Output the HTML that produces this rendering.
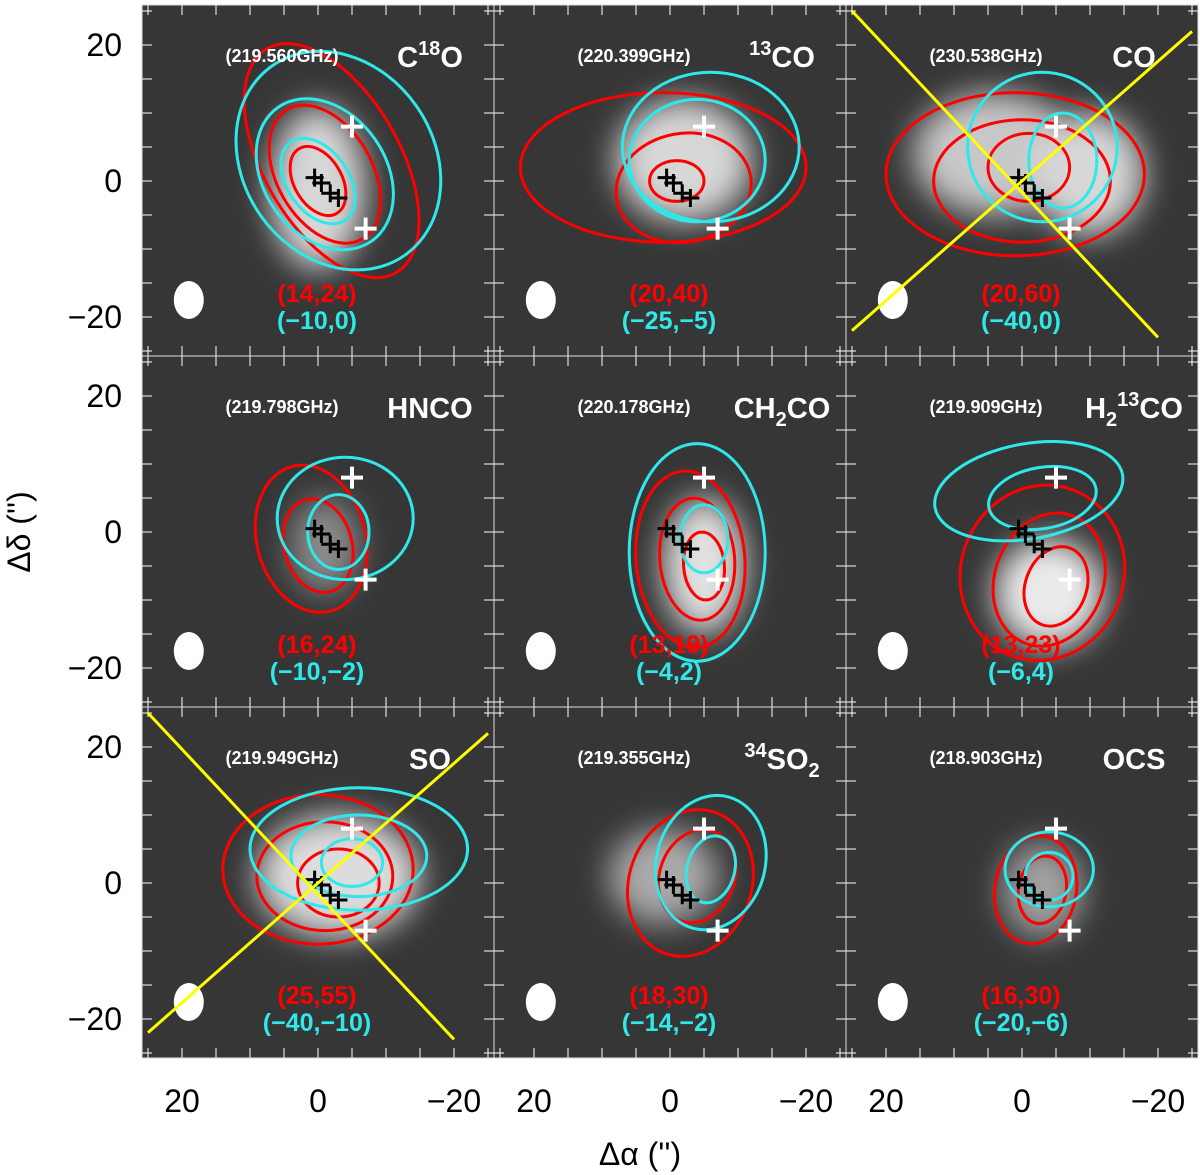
<!DOCTYPE html>
<html><head><meta charset="utf-8"><style>
body{margin:0;background:#fff;width:1200px;height:1175px;overflow:hidden;font-family:"Liberation Sans",sans-serif}
svg{position:absolute;left:0;top:0}
</style></head><body>
<svg id="fig" width="1200" height="1175" viewBox="0 0 1200 1175">
<defs>
<filter id="blur" x="-50%" y="-50%" width="200%" height="200%"><feGaussianBlur stdDeviation="16"/></filter>
</defs>
</svg>
<script>
// Panel metadata
const freqs=["(219.560GHz)","(220.399GHz)","(230.538GHz)","(219.798GHz)","(220.178GHz)","(219.909GHz)","(219.949GHz)","(219.355GHz)","(218.903GHz)"];
const mols=["C<tspan dy='-12' font-size='20'>18</tspan><tspan dy='12'>O</tspan>","<tspan dy='-12' font-size='20'>13</tspan><tspan dy='12'>CO</tspan>","CO","HNCO","CH<tspan dy='8' font-size='20'>2</tspan><tspan dy='-8'>CO</tspan>","H<tspan dy='8' font-size='20'>2</tspan><tspan dy='-20' font-size='20'>13</tspan><tspan dy='12'>CO</tspan>","SO","<tspan dy='-12' font-size='20'>34</tspan><tspan dy='12'>SO</tspan><tspan dy='8' font-size='20'>2</tspan>","OCS"];
const redRanges=["(14,24)","(20,40)","(20,60)","(16,24)","(13,19)","(13,23)","(25,55)","(18,30)","(16,30)"];
const cyanRanges=["(−10,0)","(−25,−5)","(−40,0)","(−10,−2)","(−4,2)","(−6,4)","(−40,−10)","(−14,−2)","(−20,−6)"];
// contours: [dRA, dDec, rx, ry, rotDeg] in arcsec
const redContours=[
 [[-2,3,10,19,-30],[-1,1,7,11,-30],[0,0,3.5,5.5,-30]],
 [[1,2,21,11,0],[-2,-1,10,8,-10],[-1,0,4,3,0]],
 [[1,1,19,12,0],[0,0,13,9,0],[-1,2,6,5,0]],
 [[1,-1,8,11,-15],[0,-2,5,7,-15]],
 [[-3,-4,8,13,-5],[-4,-4,5.5,9,-5],[-5,-5,3,5,-5]],
 [[-3,-6,12,13,20],[-4,-7,8,10,20],[-5,-8,4.5,6,20]],
 [[0,2,14,11,0],[-1,1,10,8,0],[-3,0,6,5,0]],
 [[-3,0,9,11,20],[-4,1,5.5,7,20]],
 [[-2,-1,6,8,10],[-3,-1,3.5,5,10]]
];
const cyanContours=[
 [[-3,3,14,17,-35],[-1,1,9,12,-35],[0,0,4.5,7,-35]],
 [[-6,5,13,11,0],[-4,3,10,9,0]],
 [[-3,5,11,11,0],[-6,3,5,7,0]],
 [[-4,2,10,9,0],[-3,0,4.5,5.5,0]],
 [[-4,-3,10,16,0],[-5,-1,3.5,5,0]],
 [[-1,6,14,7,-10],[-3,5,8,4.5,-10]],
 [[-6,5,16,9,0],[-6,4,10,6,0],[-5,3,4.5,3.5,0]],
 [[-6,3,8,10,15],[-6,2,3.5,5,15]],
 [[-4,2,6.5,5.5,0],[-4,1,3.5,3.5,0]]
];
// background emission blobs: [dRA,dDec,rx,ry,brightness 0-255]
const blobs=[
 [[0,-1,7,12,215]],
 [[-2,3,10,9,215]],
 [[4,4,12,9,200],[-10,1,8,9,215]],
 [[-1,-2,5,7,140]],
 [[-5,-5,6,10,225]],
 [[-4,-9,8,8,235]],
 [[-3,1,12,9,220]],
 [[1,1,8,7,170]],
 [[-3,-1,6,7,160]]
];
const whiteCross=[[-5,8],[-7,-7]];
const blackCross=[[0.5,0.5],[-0.5,-0.3],[-1.8,-1.8],[-3,-2.5]];
const xTicks=[20,0,-20];const yTicks=[20,0,-20];
const SC=6.8,PW=352,PH=351,X0=142,Y0=5;
const svg=document.getElementById('fig');const NS='http://www.w3.org/2000/svg';
function mk(t,a,p){const e=document.createElementNS(NS,t);for(const k in a)e.setAttribute(k,a[k]);(p||svg).appendChild(e);return e;}
function px(i,a){return X0+(i%3)*PW+176-SC*a;}
function py(i,d){return Y0+Math.floor(i/3)*PH+176-SC*d;}
for(let i=0;i<9;i++){
 const x0=X0+(i%3)*PW,y0=Y0+Math.floor(i/3)*PH;
 const g=mk('g',{});
 
 
 const cp=mk('clipPath',{id:'cp'+i},g);mk('rect',{x:x0,y:y0,width:PW,height:PH},cp);
 const inner=mk('g',{'clip-path':'url(#cp'+i+')'},g);
 mk('rect',{x:x0,y:y0,width:PW,height:PH,fill:'#363636'},inner);
 const bg=mk('g',{filter:'url(#blur)'},inner);
 blobs[i].forEach(b=>{const c=b[4];const e=mk('ellipse',{cx:px(i,b[0]),cy:py(i,b[1]),rx:b[2]*SC,ry:b[3]*SC,fill:`rgb(${c},${c},${c})`},bg);});
 redContours[i].forEach(c=>{const e=mk('ellipse',{cx:px(i,c[0]),cy:py(i,c[1]),rx:c[2]*SC,ry:c[3]*SC,fill:'none',stroke:'#f00','stroke-width':3,transform:`rotate(${c[4]} ${px(i,c[0])} ${py(i,c[1])})`},inner);});
 cyanContours[i].forEach(c=>{const e=mk('ellipse',{cx:px(i,c[0]),cy:py(i,c[1]),rx:c[2]*SC,ry:c[3]*SC,fill:'none',stroke:'#2ee8ea','stroke-width':3,transform:`rotate(${c[4]} ${px(i,c[0])} ${py(i,c[1])})`},inner);});
 for(let a=-25;a<=25;a+=5){const X=px(i,a);mk('line',{x1:X,y1:y0,x2:X,y2:y0+10,stroke:'#fff','stroke-width':1},inner);mk('line',{x1:X,y1:y0+PH,x2:X,y2:y0+PH-10,stroke:'#fff','stroke-width':1},inner);
  const Y=py(i,a);mk('line',{x1:x0,y1:Y,x2:x0+10,y2:Y,stroke:'#fff','stroke-width':1},inner);mk('line',{x1:x0+PW,y1:Y,x2:x0+PW-10,y2:Y,stroke:'#fff','stroke-width':1},inner);}
 whiteCross.forEach(c=>{const X=px(i,c[0]),Y=py(i,c[1]);const e=mk('path',{d:`M${X-11} ${Y}H${X+11}M${X} ${Y-11}V${Y+11}`,stroke:'#fff','stroke-width':4},inner);});
 blackCross.forEach(c=>{const X=px(i,c[0]),Y=py(i,c[1]);const e=mk('path',{d:`M${X-9} ${Y}H${X+9}M${X} ${Y-9}V${Y+9}`,stroke:'#000','stroke-width':3},inner);});
 const beam=mk('ellipse',{cx:px(i,19),cy:py(i,-17.5),rx:15,ry:19,fill:'#fff'},inner);
 if(i==2||i==6){[[25,-22,-25,22],[25,25,-20,-23]].forEach(l=>{const e=mk('line',{x1:px(i,l[0]),y1:py(i,l[1]),x2:px(i,l[2]),y2:py(i,l[3]),stroke:'#ff0','stroke-width':3},inner);});}
 const f=mk('text',{x:x0+140,y:y0+57,fill:'#fff','font-size':18,'font-weight':'bold','text-anchor':'middle'},inner);f.textContent=freqs[i];
 const m=mk('text',{x:x0+288,y:y0+62,fill:'#fff','font-size':29,'font-weight':'bold','text-anchor':'middle'},inner);m.innerHTML=mols[i];
 const r=mk('text',{x:x0+175,y:y0+297,fill:'#f00','font-size':25,'font-weight':'bold','text-anchor':'middle'},inner);r.textContent=redRanges[i];
 const c=mk('text',{x:x0+175,y:y0+324,fill:'#2ee8ea','font-size':25,'font-weight':'bold','text-anchor':'middle'},inner);c.textContent=cyanRanges[i];
 mk('rect',{x:x0,y:y0,width:PW,height:PH,fill:'none',stroke:'#ddd','stroke-width':1},g);
}
for(let c=0;c<3;c++)xTicks.forEach(v=>{const t=mk('text',{x:px(c,v),y:1112,'font-size':32,fill:'#000','text-anchor':'middle'});t.textContent=v<0?'−'+(-v):v;});
for(let r=0;r<3;r++)yTicks.forEach(v=>{const t=mk('text',{x:122,y:py(r*3,v)+11,'font-size':32,fill:'#000','text-anchor':'end'});t.textContent=v<0?'−'+(-v):v;});
const xt=mk('text',{x:640,y:1165,'font-size':32,'text-anchor':'middle'});xt.textContent="Δα ('')";
const yt=mk('text',{x:30,y:532,'font-size':32,'text-anchor':'middle',transform:'rotate(-90 30 532)'});yt.textContent="Δδ ('')";
</script>
</body></html>
